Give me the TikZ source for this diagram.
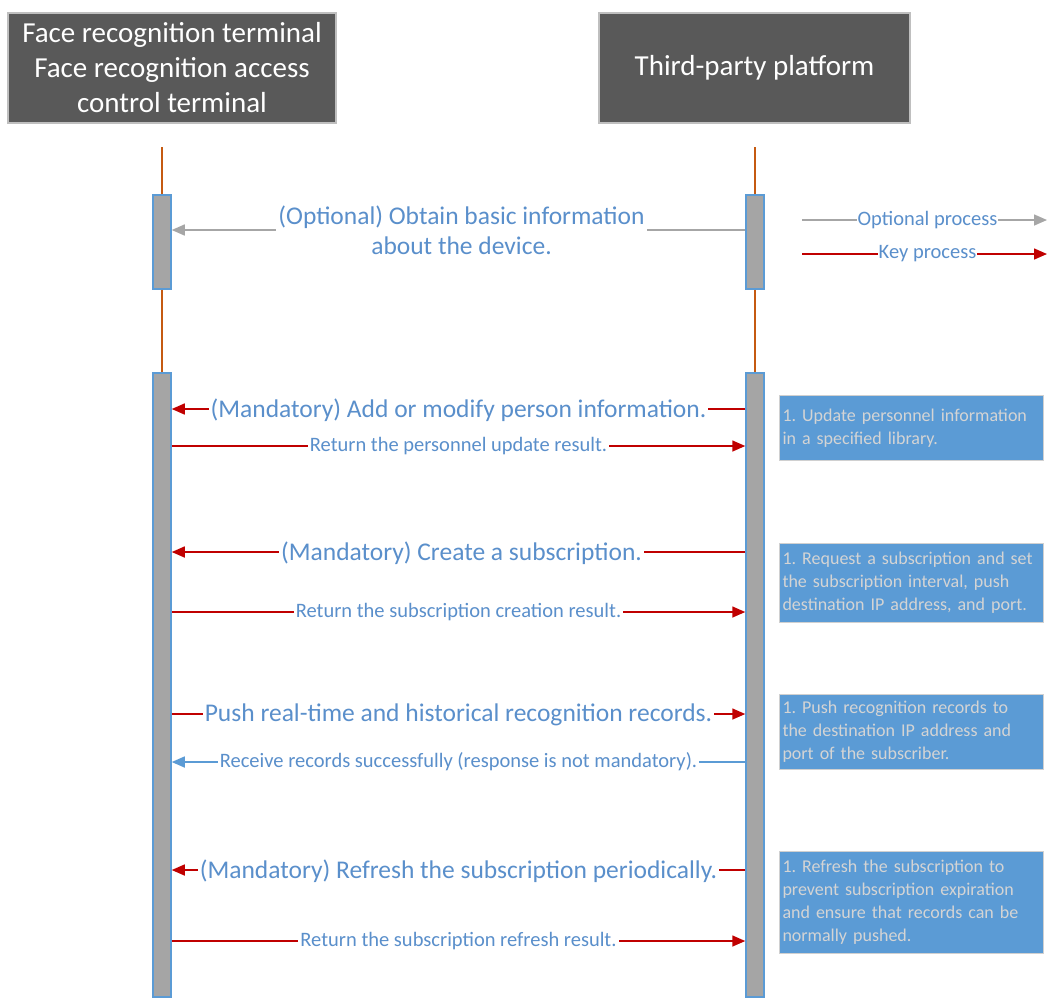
\documentclass[tikz,border=0pt]{standalone}
\usepackage{fontspec}
\setmainfont{Carlito}
\usepackage{xcolor}
\definecolor{headgray}{HTML}{595959}
\definecolor{headline}{HTML}{BFBFBF}
\definecolor{actgray}{HTML}{A5A5A5}
\definecolor{lineblue}{HTML}{5B9BD5}
\definecolor{lifeorange}{HTML}{C55A11}
\definecolor{keyred}{HTML}{C00000}
\definecolor{optgray}{HTML}{A6A6A6}
\definecolor{txtblue}{HTML}{5A8FCB}
\definecolor{noteblue}{HTML}{5B9BD5}
\definecolor{notegray}{HTML}{D0D0D0}
\definecolor{notetext}{HTML}{D4D4D4}
\usetikzlibrary{arrows.meta, positioning}

\tikzset{
  header/.style={fill=headgray, draw=headline, line width=1.5pt, text=white,
    font=\fontsize{29}{35}\selectfont, align=center, minimum height=110pt, inner sep=0pt},
  actbox/.style={fill=actgray, draw=lineblue, line width=1.5pt, minimum width=18pt, inner sep=0pt},
  lifeline/.style={draw=lifeorange, line width=1.2pt},
  keymsg/.style={draw=keyred, line width=1.5pt, -{Triangle[length=13pt,width=11pt]}, color=keyred},
  optmsg/.style={draw=optgray, line width=1.5pt, -{Triangle[length=13pt,width=11pt]}, color=optgray},
  backmsg/.style={draw=lineblue, line width=1.5pt, -{Triangle[length=13pt,width=11pt]}, color=lineblue},
  biglbl/.style={fill=white, text=txtblue, font=\fontsize{25.5}{30}\selectfont, inner sep=2pt, align=center},
  smalllbl/.style={fill=white, text=txtblue, font=\fontsize{20.5}{24}\selectfont, inner sep=2pt},
  legendlbl/.style={fill=white, text=txtblue, font=\fontsize{20.5}{24}\selectfont, inner sep=1pt},
  notebox/.style={fill=noteblue, draw=notegray, line width=1pt, text=notetext,
    font=\fontsize{18}{23}\selectfont, align=left, text width=258pt, inner xsep=3pt,
    inner ysep=2pt, anchor=north west}
}

\begin{document}
\frenchspacing
\begin{tikzpicture}[x=1pt, y=-1pt]
  \useasboundingbox (0,0) rectangle (1048,997);

  % Participants
  \node[header, minimum width=328pt] (face) at (172,68)
    {Face recognition terminal\\Face recognition access\\control terminal};
  \node[header, minimum width=311pt] (third) at (754.5,68) {Third-party platform};

  % Activations
  \node[actbox, minimum height=94pt] (faceA) at (162,242) {};
  \node[actbox, minimum height=624pt] (faceB) at (162,685) {};
  \node[actbox, minimum height=94pt] (thirdA) at (755,242) {};
  \node[actbox, minimum height=624pt] (thirdB) at (755,685) {};

  \coordinate (faceTop) at (faceA.north |- 0,147);
  \coordinate (thirdTop) at (thirdA.north |- 0,147);
  \draw[lifeline] (faceTop) -- (faceA.north);
  \draw[lifeline] (faceA.south) -- (faceB.north);
  \draw[lifeline] (thirdTop) -- (thirdA.north);
  \draw[lifeline] (thirdA.south) -- (thirdB.north);

  % Legend
  \coordinate (optS) at (802,220);
  \coordinate (optE) at (1047,220);
  \coordinate (keyS) at (802,254);
  \coordinate (keyE) at (1047,254);
  \draw[optmsg] (optS) -- node[legendlbl, xshift=3pt] {Optional process} (optE);
  \draw[keymsg] (keyS) -- node[legendlbl, xshift=3pt] {Key process} (keyE);

  % Messages
  \draw[optmsg] (thirdA.west |- 0,230) -- node[biglbl, xshift=3pt]
    {(Optional) Obtain basic information\\about the device.} (faceA.east |- 0,230);

  \draw[keymsg] (thirdB.west |- 0,409) -- node[biglbl, yshift=-1pt]
    {(Mandatory) Add or modify person information.} (faceB.east |- 0,409);
  \draw[keymsg] (faceB.east |- 0,446) -- node[smalllbl]
    {Return the personnel update result.} (thirdB.west |- 0,446);

  \draw[keymsg] (thirdB.west |- 0,552) -- node[biglbl, xshift=3pt, yshift=-1pt]
    {(Mandatory) Create a subscription.} (faceB.east |- 0,552);
  \draw[keymsg] (faceB.east |- 0,612) -- node[smalllbl]
    {Return the subscription creation result.} (thirdB.west |- 0,612);

  \draw[keymsg] (faceB.east |- 0,714) -- node[biglbl, yshift=-1pt]
    {Push real-time and historical recognition records.} (thirdB.west |- 0,714);
  \draw[backmsg] (thirdB.west |- 0,762) -- node[smalllbl]
    {Receive records successfully (response is not mandatory).} (faceB.east |- 0,762);

  \draw[keymsg] (thirdB.west |- 0,870) -- node[biglbl, yshift=-1pt]
    {(Mandatory) Refresh the subscription periodically.} (faceB.east |- 0,870);
  \draw[keymsg] (faceB.east |- 0,941) -- node[smalllbl]
    {Return the subscription refresh result.} (thirdB.west |- 0,941);

  % Notes
  \node[notebox, minimum height=65pt] (note1) at (779,395)
    {1. Update personnel information\\in a specified library.};
  \node[notebox, minimum height=79pt] (note2) at (779,543)
    {1. Request a subscription and set\\the subscription interval, push\\destination IP address, and port.};
  \node[notebox, minimum height=75pt] (note3) at (779,694)
    {1. Push recognition records to\\the destination IP address and\\port of the subscriber.};
  \node[notebox, minimum height=102pt] (note4) at (779,851)
    {1. Refresh the subscription to\\prevent subscription expiration\\and ensure that records can be\\normally pushed.};
\end{tikzpicture}
\end{document}
